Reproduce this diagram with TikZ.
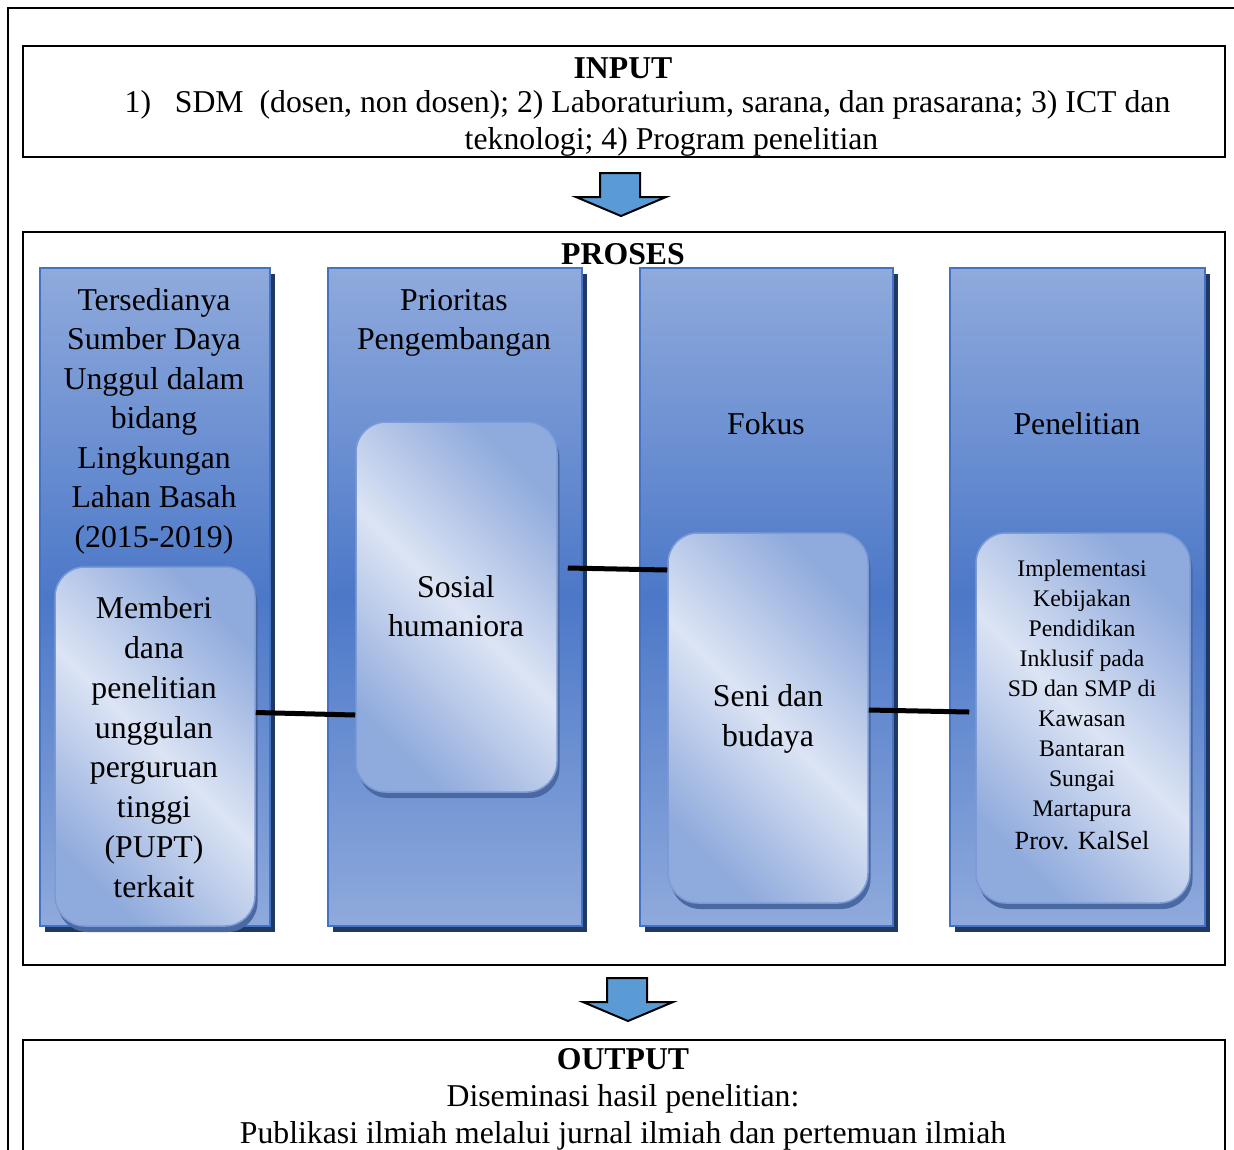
\documentclass[tikz,border=0pt]{standalone}
\usepackage{fontspec}
\setmainfont{Liberation Serif}
\usetikzlibrary{positioning,shadows,calc}
\definecolor{PpColTop}{RGB}{143,170,220}
\definecolor{PpColMid}{RGB}{76,120,200}
\definecolor{PpColLine}{RGB}{68,114,196}
\definecolor{PpColShadow}{RGB}{31,56,100}
\definecolor{PpInnerLight}{RGB}{220,228,244}
\definecolor{PpInnerDark}{RGB}{143,170,220}
\definecolor{PpInnerLine}{RGB}{124,155,214}
\definecolor{PpInnerShadow}{RGB}{74,104,162}
\definecolor{PpArrow}{RGB}{91,155,213}
\newdimen\px \px=0.4pt
\tikzset{
  pp/frame/.style={draw=black, line width=0.8pt},
  pp/panel/.style={
    draw=black,
    line width=0.8pt,
    fill=white,
    inner sep=0pt
  },
  pp/column/.style={
    draw=PpColLine,
    line width=1.1pt,
    top color=PpColTop,
    bottom color=PpColTop,
    middle color=PpColMid,
    minimum height=658\px,
    inner sep=0pt,
    drop shadow={shadow xshift=2pt, shadow yshift=-2.4pt, fill=PpColShadow, opacity=1}
  },
  pp/inner/.style={
    draw=PpInnerLine,
    line width=0.6pt,
    rounded corners=12pt,
    left color=PpInnerDark,
    right color=PpInnerDark,
    middle color=PpInnerLight,
    shading angle=135,
    inner sep=0pt,
    drop shadow={shadow xshift=1pt, shadow yshift=-2.4pt, fill=PpInnerShadow, opacity=1}
  },
  pp/text/.style={font=\fontsize{12.7}{15.8}\selectfont, align=center, inner sep=0pt},
  pp/small/.style={font=\fontsize{9.5}{12}\selectfont, align=center, inner sep=0pt},
  pp/head/.style={font=\fontsize{12.7}{15}\selectfont\bfseries, inner sep=0pt},
  pp/link/.style={draw=black, line width=2pt},
  pp/bigarrow/.style={draw=black, line width=0.8pt, fill=PpArrow}
}
\newcommand{\blockarrow}[1]{%
  \draw[pp/bigarrow] (#1) ++(-20,0) -- ++(40,0) -- ++(0,24) -- ++(26,0)
    -- ++(-45,19) -- ++(-45,-19) -- ++(24,0) -- cycle;}

\begin{document}
\begin{tikzpicture}[x=0.4pt,y=-0.4pt]
  \clip (0,0) rectangle (1234,1149);
  \draw[pp/frame] (8,8) rectangle (1260,1180);

  % input
  \node[pp/panel,minimum width=1202\px,minimum height=111\px] (input) at (624,101.5) {};
  \node[pp/head] (inputhead) at (623,68) {INPUT};
  \node[pp/text] (inputa) at (647.5,105) {1)\ \ \ SDM\ \ (dosen, non dosen); 2) Laboraturium, sarana, dan prasarana; 3) ICT dan};
  \node[pp/text] (inputb) at (671.5,142) {teknologi; 4) Program penelitian};
  \coordinate (arrowa) at (620,173);
  \blockarrow{arrowa}

  % proses
  \node[pp/panel,minimum width=1202\px,minimum height=733\px] (proses) at (624,598.5) {};
  \node[pp/head] (proseshead) at (623,254) {PROSES};

  \node[pp/column,minimum width=230\px] (c1) at (155,597) {};
  \node[pp/column,minimum width=254\px] (c2) at (455,597) {};
  \node[pp/column,minimum width=253\px] (c3) at (766.5,597) {};
  \node[pp/column,minimum width=255\px] (c4) at (1077.5,597) {};

  \node[pp/text] (c1text) at (154,421) {Tersedianya\\Sumber Daya\\Unggul dalam\\bidang\\Lingkungan\\Lahan Basah\\(2015-2019)};
  \node[pp/text] (c2text) at (454,323) {Prioritas\\Pengembangan};
  \node[pp/text] (c3text) at (766,424) {Fokus};
  \node[pp/text] (c4text) at (1077,424) {Penelitian};

  \node[pp/inner,minimum width=200\px,minimum height=359\px] (b1) at (155,746.5) {};
  \node[pp/inner,minimum width=201\px,minimum height=370\px] (b2) at (456.5,607) {};
  \node[pp/inner,minimum width=200\px,minimum height=370\px] (b3) at (768,718) {};
  \node[pp/inner,minimum width=214\px,minimum height=370\px] (b4) at (1083,718) {};

  \node[pp/text,font=\fontsize{12.7}{15.9}\selectfont] (b1text) at (154,747) {Memberi\\dana\\penelitian\\unggulan\\perguruan\\tinggi\\(PUPT)\\terkait};
  \node[pp/text] (b2text) at (456,606) {Sosial\\humaniora};
  \node[pp/text] (b3text) at (768,719) {Seni dan\\budaya};
  \node[pp/small] (b4text) at (1082,705) {Implementasi\\Kebijakan\\Pendidikan\\Inklusif pada\\SD dan SMP di\\Kawasan\\Bantaran\\Sungai\\Martapura\\[1pt]{\fontsize{10.5}{12}\selectfont Prov. KalSel}};

  \draw[pp/link] ([shift={(0,-34)}]b1.east) -- ([shift={(0,108)}]b2.west);
  \draw[pp/link] ([shift={(10,-39)}]b2.east) -- ([shift={(0,-148)}]b3.west);
  \draw[pp/link] ([shift={(0,-8)}]b3.east) -- ([shift={(-6,-6)}]b4.west);

  \coordinate (arrowb) at (627,978);
  \blockarrow{arrowb}

  % output
  \node[pp/panel,minimum width=1202\px,minimum height=140\px] (output) at (624,1110) {};
  \node[pp/text,font=\fontsize{12.7}{14.8}\selectfont] (outtext) at (623,1099) {\textbf{OUTPUT}\\Diseminasi hasil penelitian:\\Publikasi ilmiah melalui jurnal ilmiah dan pertemuan ilmiah};
\end{tikzpicture}
\end{document}
